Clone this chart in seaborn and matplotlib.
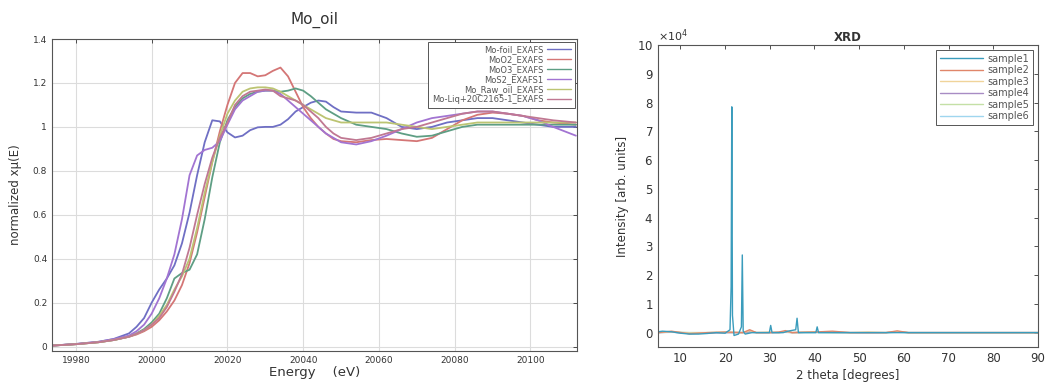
import numpy as np
import pandas as pd
import matplotlib
matplotlib.use("Agg")
import matplotlib.pyplot as plt
import seaborn as sns
from matplotlib.ticker import MultipleLocator, FixedLocator

# ---------------- XANES data (Mo_oil) ----------------
energy = [19974, 19980, 19986, 19990, 19994, 19996, 19998, 20000, 20002, 20004,
          20006, 20008, 20010, 20012, 20014, 20016, 20018, 20020, 20022, 20024,
          20026, 20028, 20030, 20032, 20034, 20036, 20038, 20040, 20042, 20044,
          20046, 20048, 20050, 20054, 20058, 20062, 20066, 20070, 20074, 20078,
          20082, 20086, 20090, 20094, 20098, 20102, 20106, 20112]

mo_foil = [0.005, 0.012, 0.022, 0.035, 0.06, 0.09, 0.13, 0.20, 0.26, 0.31,
           0.37, 0.47, 0.61, 0.78, 0.93, 1.03, 1.025, 0.975, 0.952, 0.96,
           0.985, 0.998, 1.0, 1.0, 1.01, 1.035, 1.07, 1.09, 1.11, 1.12,
           1.115, 1.09, 1.07, 1.065, 1.065, 1.04, 1.0, 0.99, 1.0, 1.02,
           1.03, 1.04, 1.04, 1.03, 1.02, 1.01, 1.0, 1.0]

moo2 = [0.005, 0.011, 0.02, 0.03, 0.045, 0.055, 0.07, 0.09, 0.12, 0.16,
        0.21, 0.28, 0.38, 0.52, 0.68, 0.84, 0.98, 1.10, 1.20, 1.245,
        1.245, 1.23, 1.235, 1.255, 1.27, 1.23, 1.16, 1.09, 1.04, 1.0,
        0.97, 0.945, 0.935, 0.93, 0.94, 0.945, 0.94, 0.935, 0.95, 0.99,
        1.03, 1.055, 1.065, 1.06, 1.05, 1.03, 1.02, 1.01]

moo3 = [0.005, 0.011, 0.02, 0.03, 0.045, 0.06, 0.08, 0.11, 0.15, 0.22,
        0.31, 0.335, 0.35, 0.42, 0.58, 0.77, 0.93, 1.03, 1.09, 1.13,
        1.15, 1.16, 1.165, 1.165, 1.16, 1.165, 1.175, 1.165, 1.14, 1.11,
        1.08, 1.06, 1.04, 1.01, 1.0, 0.99, 0.97, 0.955, 0.96, 0.98,
        1.0, 1.01, 1.01, 1.01, 1.01, 1.01, 1.01, 1.01]

mos2 = [0.005, 0.012, 0.022, 0.034, 0.05, 0.07, 0.10, 0.15, 0.22, 0.31,
        0.42, 0.58, 0.78, 0.87, 0.895, 0.905, 0.935, 1.01, 1.08, 1.12,
        1.14, 1.16, 1.165, 1.165, 1.15, 1.12, 1.09, 1.06, 1.03, 1.0,
        0.97, 0.95, 0.93, 0.92, 0.935, 0.96, 0.99, 1.02, 1.04, 1.05,
        1.06, 1.07, 1.07, 1.06, 1.05, 1.03, 1.0, 0.96]

mo_raw_oil = [0.005, 0.011, 0.02, 0.03, 0.045, 0.058, 0.075, 0.10, 0.14, 0.19,
              0.26, 0.32, 0.40, 0.54, 0.70, 0.84, 0.96, 1.06, 1.12, 1.16,
              1.175, 1.18, 1.18, 1.175, 1.16, 1.14, 1.12, 1.10, 1.08, 1.06,
              1.04, 1.03, 1.02, 1.02, 1.02, 1.02, 1.01, 1.0, 0.99, 1.0,
              1.01, 1.02, 1.02, 1.02, 1.02, 1.02, 1.02, 1.02]

mo_liq = [0.005, 0.011, 0.02, 0.03, 0.045, 0.058, 0.075, 0.10, 0.13, 0.18,
          0.25, 0.33, 0.45, 0.60, 0.74, 0.86, 0.95, 1.02, 1.10, 1.14,
          1.16, 1.165, 1.17, 1.165, 1.14, 1.13, 1.12, 1.10, 1.07, 1.04,
          1.0, 0.97, 0.95, 0.94, 0.95, 0.97, 0.99, 1.0, 1.02, 1.04,
          1.06, 1.07, 1.07, 1.06, 1.05, 1.04, 1.03, 1.02]

xanes_labels = ["Mo-foil_EXAFS", "MoO2_EXAFS", "MoO3_EXAFS", "MoS2_EXAFS1",
                "Mo_Raw_oil_EXAFS", "Mo-Liq+20C2165-1_EXAFS"]
xanes_series = [mo_foil, moo2, moo3, mos2, mo_raw_oil, mo_liq]
xanes_colors = ["#6f6fc4", "#d47676", "#5e9e84", "#a274d2", "#bcc472", "#c07892"]

# ---------------- XRD data (intensity in units of 1e4) ----------------
two_theta_1 = [5, 6, 8, 10, 12, 14, 16, 18, 20, 21.1, 21.35, 21.5, 21.65, 22.0,
               23.0, 23.65, 23.85, 24.05, 24.5, 26, 28, 29.9, 30.2, 30.5, 33,
               34, 35.8, 36.1, 36.4, 38, 40.3, 40.6, 40.9, 43, 45, 50, 55, 60,
               65, 70, 75, 80, 85, 90]
sample1 = [0.03, 0.05, 0.03, -0.02, -0.05, -0.05, -0.03, 0.0, -0.02, 0.1,
           1.6, 7.85, 0.6, -0.1, -0.05, 0.2, 2.7, 0.05, -0.05, 0.0, 0.0, 0.0,
           0.25, 0.0, 0.0, 0.05, 0.1, 0.5, 0.0, 0.0, 0.0, 0.2, 0.0, 0.0, 0.0,
           0.0, 0.0, 0.0, 0.0, 0.0, 0.0, 0.0, 0.0, 0.0]

two_theta_b = [5, 8, 12, 16, 20, 24, 25.5, 27, 30, 32, 33.5, 35, 40, 44, 48, 52,
               56, 58.5, 61, 65, 70, 80, 90]
sample2 = [0.0, 0.05, -0.04, 0.0, 0.02, 0.0, 0.1, 0.0, 0.0, 0.02, 0.07, 0.0,
           0.02, 0.05, 0.0, 0.0, 0.0, 0.06, 0.0, 0.0, 0.0, 0.0, 0.0]
sample3 = [0.0, 0.03, -0.02, 0.0, 0.01, 0.0, 0.07, 0.0, 0.02, 0.0, 0.04, 0.0,
           0.03, 0.02, 0.0, 0.02, 0.0, 0.04, 0.0, 0.0, 0.0, 0.0, 0.0]
sample4 = [0.0, 0.02, -0.03, -0.02, 0.0, 0.0, 0.03, 0.0, 0.0, 0.0, 0.03, 0.0,
           0.02, 0.01, 0.0, 0.0, 0.0, 0.03, 0.0, 0.0, 0.0, 0.0, 0.0]
sample5 = [0.0, 0.02, 0.0, 0.0, 0.01, 0.0, 0.02, 0.0, 0.0, 0.0, 0.02, 0.0,
           0.01, 0.0, 0.0, 0.0, 0.0, 0.02, 0.0, 0.0, 0.0, 0.0, 0.0]
sample6 = [0.0, 0.01, 0.0, 0.0, 0.0, 0.0, 0.01, 0.0, 0.0, 0.0, 0.01, 0.0,
           0.0, 0.0, 0.0, 0.0, 0.0, 0.01, 0.0, 0.0, 0.0, 0.0, 0.0]

xrd_labels = ["sample1", "sample2", "sample3", "sample4", "sample5", "sample6"]
xrd_colors = ["#3a9cbc", "#e0866a", "#f0d49a", "#a88cc4", "#c4e0a6", "#9fd6ef"]

# ---------------- Build frames ----------------
xanes_df = pd.concat([
    pd.DataFrame({"Energy": energy, "mu": vals, "series": lab})
    for lab, vals in zip(xanes_labels, xanes_series)
], ignore_index=True)

xrd_parts = [pd.DataFrame({"theta": two_theta_1, "I": np.array(sample1) * 1e4, "series": "sample1"})]
for lab, vals in zip(xrd_labels[1:], [sample2, sample3, sample4, sample5, sample6]):
    xrd_parts.append(pd.DataFrame({"theta": two_theta_b, "I": np.array(vals) * 1e4, "series": lab}))
xrd_df = pd.concat(xrd_parts, ignore_index=True)

# ---------------- Figure ----------------
sns.set_style("white")
plt.rcParams["font.family"] = ["DejaVu Sans"]
text_col = "#333333"

fig = plt.figure(figsize=(10.45, 3.85), dpi=100)
ax1 = fig.add_axes([0.0498, 0.0883, 0.5024, 0.8104])
ax2 = fig.add_axes([0.6297, 0.0987, 0.3636, 0.7844])

# Left: XANES
sns.lineplot(data=xanes_df, x="Energy", y="mu", hue="series", hue_order=xanes_labels,
             palette=xanes_colors, estimator=None, sort=False, linewidth=1.3,
             ax=ax1, legend=False)
ax1.set_xlim(19973.7, 20112.3)
ax1.set_ylim(-0.02, 1.4)
ax1.xaxis.set_major_locator(MultipleLocator(20))
ax1.yaxis.set_major_locator(FixedLocator([0, 0.2, 0.4, 0.6, 0.8, 1.0, 1.2, 1.4]))
ax1.set_yticklabels(["0", "0.2", "0.4", "0.6", "0.8", "1", "1.2", "1.4"])
ax1.grid(True, color="#dcdcdc", linewidth=0.8)
ax1.tick_params(direction="in", top=True, right=True, labelsize=6.5,
                colors=text_col, length=3, width=0.6)
for s in ax1.spines.values():
    s.set_color("#555555")
    s.set_linewidth(0.8)
ax1.set_title("Mo_oil", fontsize=11, color=text_col, pad=11)
ax1.set_xlabel("Energy    (eV)", fontsize=9.5, color=text_col, labelpad=1)
ax1.set_ylabel("normalized x\u03bc(E)", fontsize=8.5, color=text_col, labelpad=8)

handles1 = [plt.Line2D([], [], color=c, lw=1.0) for c in xanes_colors]
leg1 = ax1.legend(handles1, xanes_labels, loc="upper right", markerfirst=False,
                  fontsize=6, frameon=True, fancybox=False, framealpha=1,
                  edgecolor="#555555", borderaxespad=0.3, handlelength=2.8,
                  labelspacing=0.12, handletextpad=0.5, borderpad=0.45)
leg1.get_frame().set_linewidth(0.7)
for t in leg1.get_texts():
    t.set_color("#555555")

# Right: XRD
sns.lineplot(data=xrd_df, x="theta", y="I", hue="series", hue_order=xrd_labels[::-1],
             palette=xrd_colors[::-1], estimator=None, sort=False, linewidth=1.0,
             ax=ax2, legend=False)
ax2.set_xlim(5, 90)
ax2.set_ylim(-0.5e4, 10e4)
ax2.xaxis.set_major_locator(FixedLocator([10, 20, 30, 40, 50, 60, 70, 80, 90]))
ax2.yaxis.set_major_locator(MultipleLocator(1e4))
ax2.ticklabel_format(axis="y", style="sci", scilimits=(4, 4), useMathText=True)
ax2.yaxis.get_offset_text().set_fontsize(8)
ax2.yaxis.get_offset_text().set_color("#555555")
ax2.tick_params(direction="in", top=True, right=True, labelsize=8.5,
                colors=text_col, length=3, width=0.6)
for s in ax2.spines.values():
    s.set_color("#555555")
    s.set_linewidth(0.8)
ax2.set_title("XRD", fontsize=8.5, fontweight="bold", color=text_col, pad=3)
ax2.set_xlabel("2 theta [degrees]", fontsize=8.5, color=text_col, labelpad=3)
ax2.set_ylabel("Intensity [arb. units]", fontsize=8.5, color=text_col, labelpad=6)

handles2 = [plt.Line2D([], [], color=c, lw=1.0) for c in xrd_colors]
leg2 = ax2.legend(handles2, xrd_labels, loc="upper right", fontsize=7,
                  frameon=True, fancybox=False, framealpha=1, edgecolor="#555555",
                  borderaxespad=0.5, handlelength=4.5, labelspacing=0.15,
                  handletextpad=0.4, borderpad=0.4)
leg2.get_frame().set_linewidth(0.7)
for t in leg2.get_texts():
    t.set_color("#555555")

fig.savefig("out.png", dpi=100)
